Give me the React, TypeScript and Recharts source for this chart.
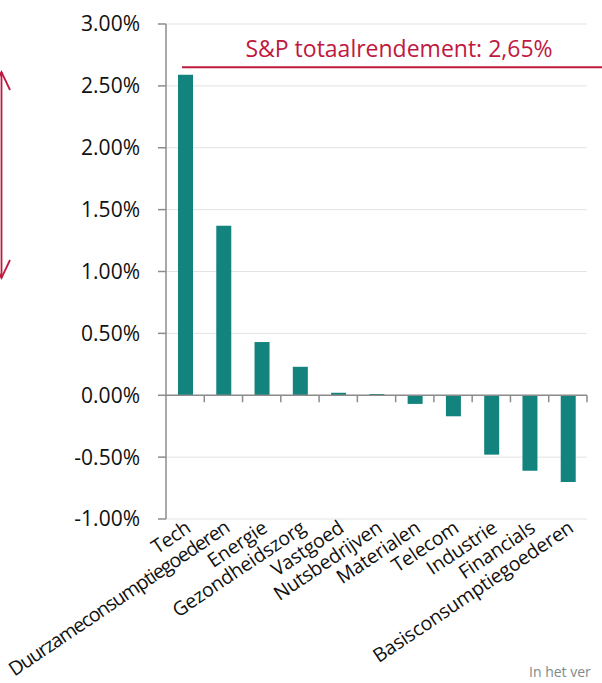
import { BarChart, Bar, XAxis, YAxis, CartesianGrid, ReferenceLine } from "recharts";

const sectors = [
  "Tech",
  "Duurzameconsumptiegoederen",
  "Energie",
  "Gezondheidszorg",
  "Vastgoed",
  "Nutsbedrijven",
  "Materialen",
  "Telecom",
  "Industrie",
  "Financials",
  "Basisconsumptiegoederen",
];
const returns = [2.59, 1.37, 0.43, 0.23, 0.02, 0.01, -0.07, -0.17, -0.48, -0.61, -0.7];
const yTicks = [-1, -0.5, 0, 0.5, 1, 1.5, 2, 2.5, 3];
const spTotal = 2.65;
const spLabel = "S&P totaalrendement: 2,65%";
const footnote = "In het ver";

const FONT = "'Open Sans', sans-serif";
const TEAL = "#13837E";
const RED = "#C0193F";
const AXIS_GREY = "#8c8c8c";

const data = sectors.map((name, i) => ({ name, value: returns[i] }));

function SectorTick({ x, y, payload }: any) {
  const ax = x + 7;
  const ay = y + 10;
  // very long names get squeezed, like the original
  const squeeze = payload.value.length > 24 ? -1.1 : -0.2;
  return (
    <text
      x={ax}
      y={ay}
      transform={`rotate(-34, ${ax}, ${ay})`}
      textAnchor="end"
      fontSize={19.5}
      letterSpacing={squeeze}
      fontFamily={FONT}
      fill="#111"
    >
      {payload.value}
    </text>
  );
}

// zero line with category boundary ticks
function ZeroAxis(props: any) {
  const { x1, y1, x2 } = props;
  const step = (x2 - x1) / sectors.length;
  return (
    <g>
      <line x1={x1} y1={y1} x2={x2} y2={y1} stroke={AXIS_GREY} strokeWidth={1.5} />
      {sectors.map((_, i) => (
        <line
          key={i}
          x1={x1 + step * (i + 1)}
          x2={x1 + step * (i + 1)}
          y1={y1}
          y2={y1 + 7}
          stroke={AXIS_GREY}
          strokeWidth={1.5}
        />
      ))}
    </g>
  );
}

function TotalLine(props: any) {
  const { x1, y1, x2 } = props;
  const start = x1 + 16;
  const end = x2 + 15;
  return (
    <g>
      <line x1={start} y1={y1} x2={end} y2={y1} stroke={RED} strokeWidth={2} />
      <text
        x={(start + end) / 2 + 7}
        y={y1 - 10}
        textAnchor="middle"
        fontSize={23}
        fontFamily={FONT}
        fill={RED}
      >
        {spLabel}
      </text>
    </g>
  );
}

export default function App() {
  return (
    <div
      style={{
        position: "absolute",
        left: 0,
        top: 0,
        width: 602,
        height: 683,
        overflow: "hidden",
        background: "#fff",
        fontFamily: FONT,
      }}
    >
      <svg width={20} height={300} style={{ position: "absolute", left: 0, top: 0 }}>
        <g stroke={RED} strokeWidth={1.8} fill="none">
          <line x1={1.5} y1={72} x2={1.5} y2={278} />
          <polyline points="10,90 1.5,72 -7,90" />
          <polyline points="10,260 1.5,278 -7,260" />
        </g>
      </svg>
      <BarChart
        width={602}
        height={683}
        data={data}
        margin={{ top: 24, right: 15, bottom: 0, left: 0 }}
        barSize={15}
      >
        <CartesianGrid vertical={false} stroke="#e3e3e3" />
        <XAxis
          dataKey="name"
          interval={0}
          height={164}
          axisLine={false}
          tickLine={false}
          tickSize={0}
          tick={<SectorTick />}
        />
        <YAxis
          width={166}
          domain={[-1, 3]}
          ticks={yTicks}
          interval={0}
          tickFormatter={(v: number) => `${v.toFixed(2)}%`}
          axisLine={{ stroke: AXIS_GREY, strokeWidth: 1.5 }}
          tickLine={{ stroke: AXIS_GREY, strokeWidth: 1.5 }}
          tickSize={8}
          tickMargin={18}
          tick={{ fontSize: 21, fontFamily: FONT, fill: "#111" }}
        />
        <Bar dataKey="value" fill={TEAL} isAnimationActive={false} />
        <ReferenceLine y={0} shape={<ZeroAxis />} />
        <ReferenceLine y={spTotal} shape={<TotalLine />} />
      </BarChart>
      <div
        style={{
          position: "absolute",
          left: 529,
          top: 662,
          fontSize: 14,
          color: "#7d8a8a",
          fontFamily: FONT,
          whiteSpace: "nowrap",
        }}
      >
        {footnote}
      </div>
    </div>
  );
}
